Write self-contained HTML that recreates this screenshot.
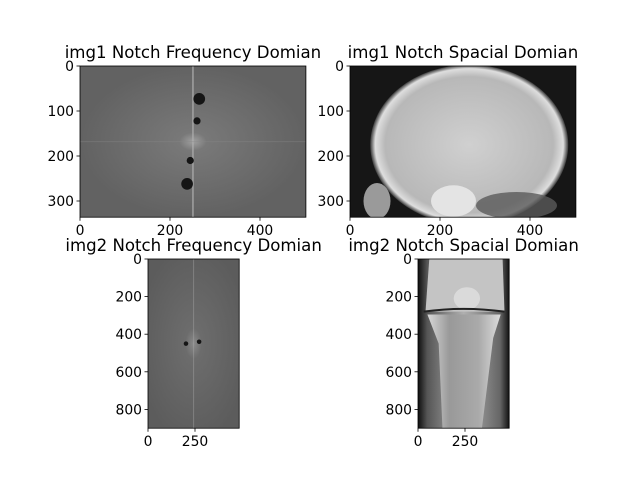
<!DOCTYPE html>
<html><head><meta charset="utf-8"><style>
body{margin:0;background:#fff}
svg{display:block;font-family:"DejaVu Sans","Liberation Sans",sans-serif}
</style></head><body>
<svg id="fig" width="640" height="480" viewBox="0 0 640 480">
<defs>
<radialGradient id="fc1" cx="0.5" cy="0.5" r="0.5"><stop offset="0" stop-color="#a0a0a0"/><stop offset="0.12" stop-color="#787878"/><stop offset="1" stop-color="#626262"/></radialGradient>
<radialGradient id="fc2" cx="0.5" cy="0.5" r="0.6"><stop offset="0" stop-color="#8a8a8a"/><stop offset="0.15" stop-color="#6c6c6c"/><stop offset="1" stop-color="#5c5c5c"/></radialGradient>
<radialGradient id="skull" cx="0.5" cy="0.5" r="0.5"><stop offset="0" stop-color="#d0d0d0"/><stop offset="0.85" stop-color="#b8b8b8"/><stop offset="0.95" stop-color="#dedede"/><stop offset="1" stop-color="#3a3a3a"/></radialGradient>
<linearGradient id="knee" x1="0" x2="1"><stop offset="0" stop-color="#0e0e0e"/><stop offset="0.1" stop-color="#555"/><stop offset="0.5" stop-color="#b0b0b0"/><stop offset="0.9" stop-color="#666"/><stop offset="1" stop-color="#121212"/></linearGradient>
<linearGradient id="tibia" x1="0" x2="1"><stop offset="0" stop-color="#d8d8d8"/><stop offset="0.3" stop-color="#999"/><stop offset="0.7" stop-color="#aaa"/><stop offset="1" stop-color="#dcdcdc"/></linearGradient>
<clipPath id="clipSkull"><rect x="350" y="66" width="226" height="151"/></clipPath>
<clipPath id="clipKnee"><rect x="418" y="259" width="91" height="169"/></clipPath>
</defs>
<g id="plots"></g>
</svg>
<script>
const titles=["img1 Notch Frequency Domian","img1 Notch Spacial Domian","img2 Notch Frequency Domian","img2 Notch Spacial Domian"];
const img1Size=[502,336];
const img2Size=[485,900];
const xTicks1=[0,200,400];
const yTicks1=[0,100,200,300];
const xTicks2=[0,250];
const yTicks2=[0,200,400,600,800];
const notch1X=[265,260,245,238];
const notch1Y=[73,122,210,262];
const notch1R=[13,8,8,13];
const notch2X=[202,272];
const notch2Y=[450,440];
const notch2R=[12,12];
const NS="http://www.w3.org/2000/svg";
const root=document.getElementById('plots');
function mk(tag,attrs,parent){const e=document.createElementNS(NS,tag);for(const k in attrs)e.setAttribute(k,attrs[k]);(parent||root).appendChild(e);return e;}
const axesDefs=[
 {x0:80,y0:66,s:0.45,size:img1Size,xt:xTicks1,yt:yTicks1,kind:'f1'},
 {x0:350,y0:66,s:0.45,size:img1Size,xt:xTicks1,yt:yTicks1,kind:'skull'},
 {x0:148,y0:259,s:0.188,size:img2Size,xt:xTicks2,yt:yTicks2,kind:'f2'},
 {x0:418,y0:259,s:0.188,size:img2Size,xt:xTicks2,yt:yTicks2,kind:'knee'}];
axesDefs.forEach((a,i)=>{
 const g=mk('g',{});
 
 
 const W=a.size[0]*a.s,H=a.size[1]*a.s;
 const sx=v=>a.x0+v*a.s, sy=v=>a.y0+v*a.s;
 const img=mk('g',{},g);
 
 
 if(a.kind==='f1'||a.kind==='f2'){
  mk('rect',{x:a.x0,y:a.y0,width:W,height:H,fill:a.kind==='f1'?'url(#fc1)':'url(#fc2)'},img);
  const cx=sx(a.size[0]/2), cy=sy(a.size[1]/2);
  mk('line',{x1:cx,y1:a.y0,x2:cx,y2:a.y0+H,stroke:'#b0b0b0','stroke-width':a.kind==='f1'?1.5:1,opacity:a.kind==='f1'?0.8:0.4},img);
  if(a.kind==='f1')mk('line',{x1:a.x0,y1:cy,x2:a.x0+W,y2:cy,stroke:'#888','stroke-width':1,opacity:0.4},img);
  const X=a.kind==='f1'?notch1X:notch2X,Y=a.kind==='f1'?notch1Y:notch2Y,R=a.kind==='f1'?notch1R:notch2R;
  X.forEach((v,j)=>{const c=mk('circle',{cx:sx(v),cy:sy(Y[j]),r:R[j]*a.s,fill:'#151515'},img);
   
   });
 } else if(a.kind==='skull'){
  mk('rect',{x:a.x0,y:a.y0,width:W,height:H,fill:'#161616'},img);
  const cg=mk('g',{'clip-path':'url(#clipSkull)'},img);
  mk('ellipse',{cx:sx(265),cy:sy(175),rx:220*a.s,ry:178*a.s,fill:'url(#skull)'},cg);
  mk('ellipse',{cx:sx(230),cy:sy(300),rx:50*a.s,ry:35*a.s,fill:'#e4e4e4'},cg);
  mk('ellipse',{cx:sx(370),cy:sy(310),rx:90*a.s,ry:30*a.s,fill:'#5a5a5a',opacity:0.8},cg);
  mk('ellipse',{cx:sx(60),cy:sy(300),rx:30*a.s,ry:40*a.s,fill:'#9a9a9a'},cg);
 } else {
  mk('rect',{x:a.x0,y:a.y0,width:W,height:H,fill:'url(#knee)'},img);
  const cg=mk('g',{'clip-path':'url(#clipKnee)'},img);
  mk('path',{d:`M${sx(60)} ${sy(0)} L${sx(450)} ${sy(0)} L${sx(460)} ${sy(280)} L${sx(40)} ${sy(280)} Z`,fill:'#c4c4c4'},cg);
  mk('ellipse',{cx:sx(260),cy:sy(210),rx:70*a.s,ry:60*a.s,fill:'#dadada'},cg);
  mk('path',{d:`M${sx(30)} ${sy(280)} Q${sx(240)} ${sy(250)} ${sx(460)} ${sy(280)}`,stroke:'#222','stroke-width':2,fill:'none'},cg);
  mk('path',{d:`M${sx(50)} ${sy(295)} L${sx(440)} ${sy(295)} L${sx(400)} ${sy(420)} L${sx(340)} ${sy(900)} L${sx(130)} ${sy(900)} L${sx(110)} ${sy(450)} Z`,fill:'url(#tibia)'},cg);
 }
 const frame=mk('rect',{x:a.x0,y:a.y0,width:W,height:H,fill:'none',stroke:'#000','stroke-width':0.8},g);
 
 
 a.xt.forEach(t=>{const x=sx(t);
  mk('line',{x1:x,y1:a.y0+H,x2:x,y2:a.y0+H+3.5,stroke:'#000','stroke-width':0.8},g);
  const tx=mk('text',{x:x,y:a.y0+H+18,'font-size':13.9,'text-anchor':'middle'},g);tx.textContent=t;
  
  });
 a.yt.forEach(t=>{const y=sy(t);
  mk('line',{x1:a.x0,y1:y,x2:a.x0-3.5,y2:y,stroke:'#000','stroke-width':0.8},g);
  const tx=mk('text',{x:a.x0-6,y:y+5,'font-size':13.9,'text-anchor':'end'},g);tx.textContent=t;
  
  });
 const tt=mk('text',{x:a.x0+W/2,y:a.y0-8,'font-size':16.6,'text-anchor':'middle'},g);tt.textContent=titles[i];
 
 
});
</script>
</body></html>
